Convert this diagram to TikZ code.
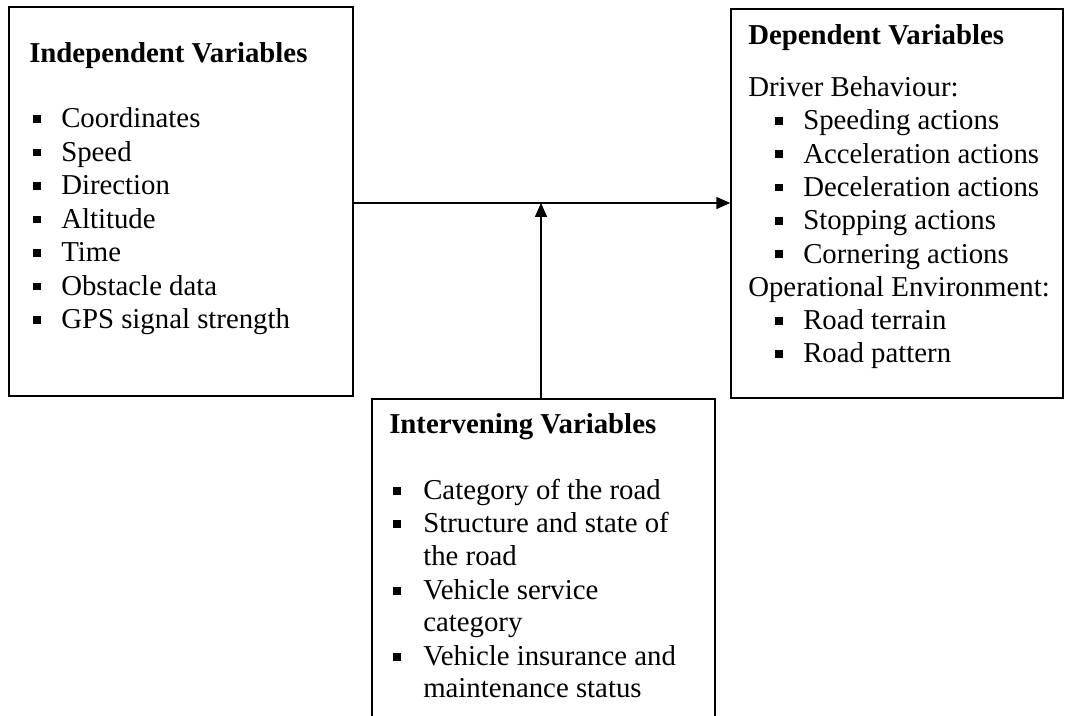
\documentclass[tikz,border=0pt]{standalone}
\usepackage{fontspec}
\setmainfont{Liberation Serif}
\usetikzlibrary{arrows.meta,fit}

% small square bullet, and a fixed-width slot holding it
\newcommand{\sqmark}{\rule[4pt]{5.6pt}{5.6pt}}
\newcommand{\bslot}[1]{\makebox[#1][l]{\sqmark}}

\tikzset{
  box/.style={draw, line width=1.1pt, inner sep=0pt},
  txt/.style={anchor=base west, inner sep=0pt, font=\fontsize{21.6pt}{25pt}\selectfont},
  head/.style={txt, font=\fontsize{21.6pt}{25pt}\selectfont\bfseries},
  arr/.style={line width=1.1pt, -{Triangle[length=10.5pt,width=9pt]}}
}

\begin{document}
\begin{tikzpicture}[x=0.75pt,y=-0.75pt]
  \path[use as bounding box] (0,0) rectangle (1065,716);
  \clip (0,0) rectangle (1065,716);

  % boxes
  \node[box, fit={(9,7) (353,396)}] (indep) {};
  \node[box, fit={(731,9) (1063,398)}] (dep) {};
  \node[box, fit={(372,399) (715,760)}] (interv) {};

  % independent variables
  \node[head] (indephead) at (29,63) {Independent Variables};
  \foreach \t [count=\i] in {Coordinates, Speed, Direction, Altitude, Time,
      Obstacle data, GPS signal strength}
    \node[txt] (iv\i) at (33,{128+33.5*(\i-1)}) {\bslot{21pt}\t};

  % dependent variables
  \node[head] (dephead) at (748,45) {Dependent Variables};
  \node[txt] (drv) at (748,97) {Driver Behaviour:};
  \foreach \t [count=\i] in {Speeding actions, Acceleration actions,
      Deceleration actions, Stopping actions, Cornering actions}
    \node[txt] (dv\i) at (775,{130+33.3*(\i-1)}) {\bslot{21pt}\t};
  \node[txt] (openv) at (748,297) {Operational Environment:};
  \node[txt] (oe1) at (775,330) {\bslot{21pt}Road terrain};
  \node[txt] (oe2) at (775,363) {\bslot{21pt}Road pattern};

  % intervening variables
  \node[head] (intervhead) at (389,434) {Intervening Variables};
  \node[txt] (in1) at (393,500) {\bslot{22.5pt}Category of the road};
  \node[txt] (in2) at (393,533) {\bslot{22.5pt}Structure and state of};
  \node[txt] (in2b) at (423,566) {the road};
  \node[txt] (in3) at (393,600) {\bslot{22.5pt}Vehicle service};
  \node[txt] (in3b) at (423,632) {category};
  \node[txt] (in4) at (393,666) {\bslot{22.5pt}Vehicle insurance and};
  \node[txt] (in4b) at (423,697) {maintenance status};

  % connectors
  \draw[arr] (indep.east |- 0,203) -- (dep.west |- 0,203);
  \coordinate (join) at (541,203);
  \draw[arr] (interv.north -| join) -- (join);
\end{tikzpicture}
\end{document}
